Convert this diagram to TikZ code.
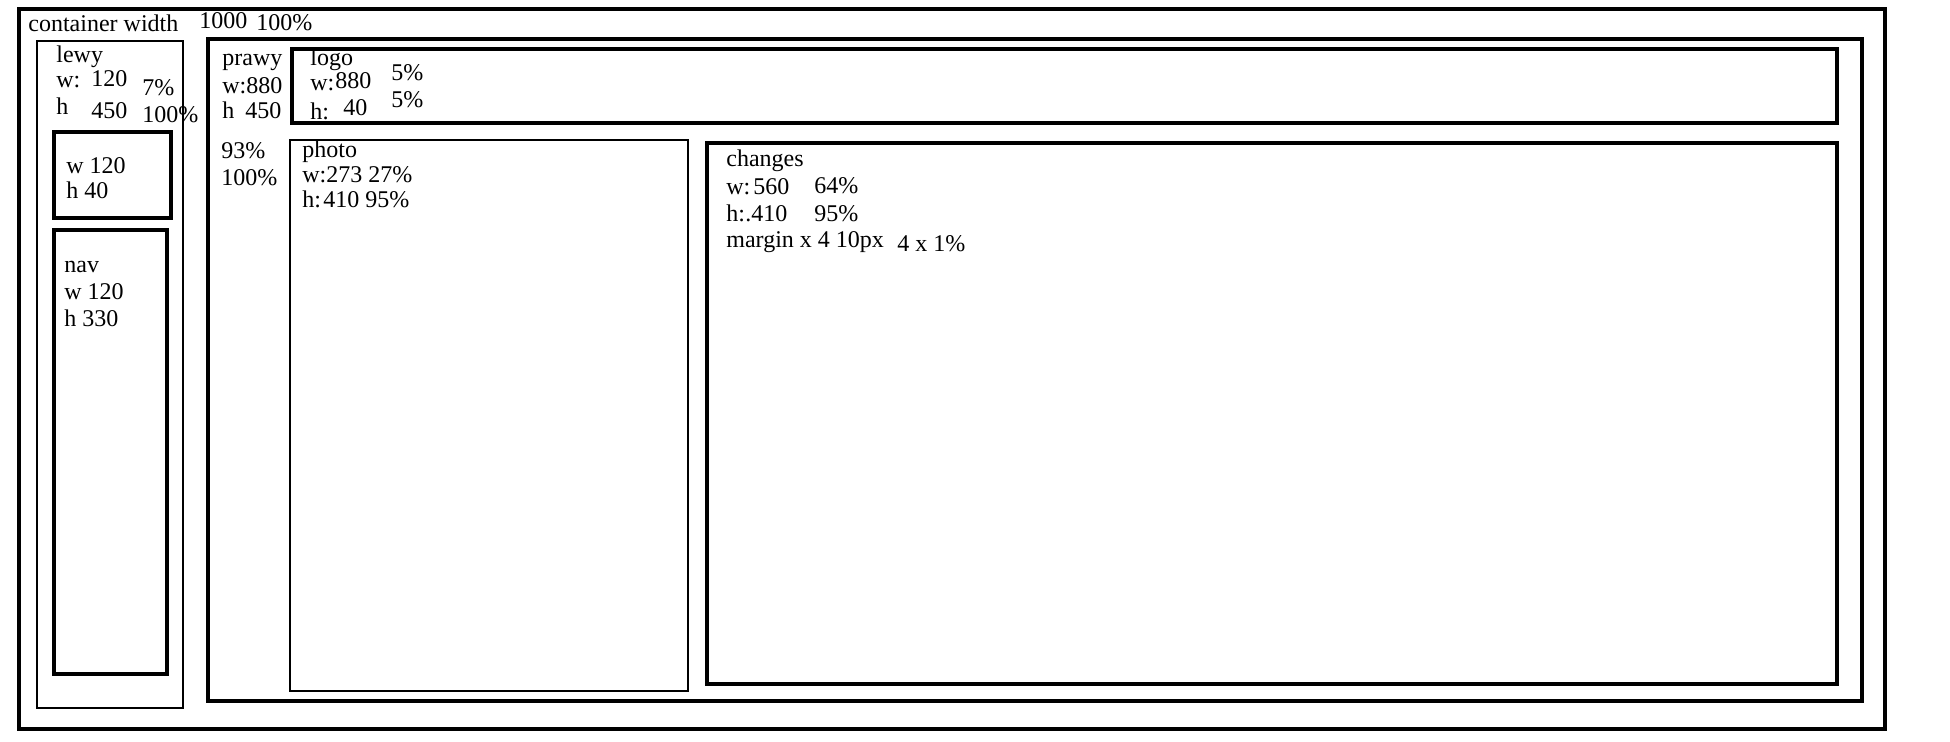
\documentclass[tikz,border=0pt]{standalone}
\usepackage{fontspec}
\setmainfont{Liberation Serif}
\begin{document}
\begin{tikzpicture}[x=0.5pt,y=-0.5pt,
  txt/.style={anchor=base west,inner sep=0pt,font=\fontsize{12}{14}\selectfont},
  boxA/.style={draw=black,line width=1.6pt},
  boxB/.style={draw=black,line width=1.3pt},
  boxC/.style={draw=black,line width=1.1pt},
  boxD/.style={draw=black,line width=2.4pt}]
\useasboundingbox (0,0) rectangle (1950,741);
% boxes
\draw[boxA] (19,9) rectangle (1885,729);
\draw[boxB] (37,41) rectangle (183,708);
\draw[boxD] (54,132) rectangle (171,218);
\draw[boxD] (54,230) rectangle (167,674);
\draw[boxA] (208,39) rectangle (1862,701);
\draw[boxA] (292,49) rectangle (1837,123);
\draw[boxC] (290,140) rectangle (688,691);
\draw[boxA] (707,143) rectangle (1837,684);
% texts
\node[txt] (cw) at (28,31) {container width};
\node[txt] (cw1) at (199,28) {1000};
\node[txt] (cw2) at (256,30) {100\%};
\node[txt] (lw) at (56,62) {lewy};
\node[txt] (lw1) at (56,87) {w:};
\node[txt] (lw2) at (91,86) {120};
\node[txt] (lw3) at (142,95) {7\%};
\node[txt] (lw4) at (56,114) {h};
\node[txt] (lw5) at (91,118) {450};
\node[txt] (lw6) at (142,122) {100\%};
\node[txt] (sb1) at (66,173) {w 120};
\node[txt] (sb2) at (66,198) {h 40};
\node[txt] (nv) at (64,272) {nav};
\node[txt] (nv1) at (64,299) {w 120};
\node[txt] (nv2) at (64,326) {h 330};
\node[txt] (pr) at (222,65) {prawy};
\node[txt] (pr1) at (222,93) {w:880};
\node[txt] (pr2) at (222,118) {h};
\node[txt] (pr3) at (245,118) {450};
\node[txt] (pr4) at (221,158) {93\%};
\node[txt] (pr5) at (221,185) {100\%};
\node[txt] (lg) at (310,65) {logo};
\node[txt] (lg1) at (310,90) {w:};
\node[txt] (lg2) at (335,88) {880};
\node[txt] (lg3) at (310,119) {h:};
\node[txt] (lg4) at (343,115) {40};
\node[txt] (lg5) at (391,80) {5\%};
\node[txt] (lg6) at (391,107) {5\%};
\node[txt] (ph) at (302,157) {photo};
\node[txt] (ph1) at (302,182) {w:273 27\%};
\node[txt] (ph2) at (302,207) {h:};
\node[txt] (ph3) at (323,207) {410 95\%};
\node[txt] (ch) at (726,166) {changes};
\node[txt] (ch1) at (726,194) {w:};
\node[txt] (ch2) at (753,194) {560};
\node[txt] (ch3) at (814,193) {64\%};
\node[txt] (ch4) at (726,221) {h:};
\node[txt] (ch5) at (745,221) {.410};
\node[txt] (ch6) at (814,221) {95\%};
\node[txt] (ch7) at (726,247) {margin x 4 10px};
\node[txt] (ch8) at (897,251) {4 x 1\%};
\end{tikzpicture}
\end{document}
